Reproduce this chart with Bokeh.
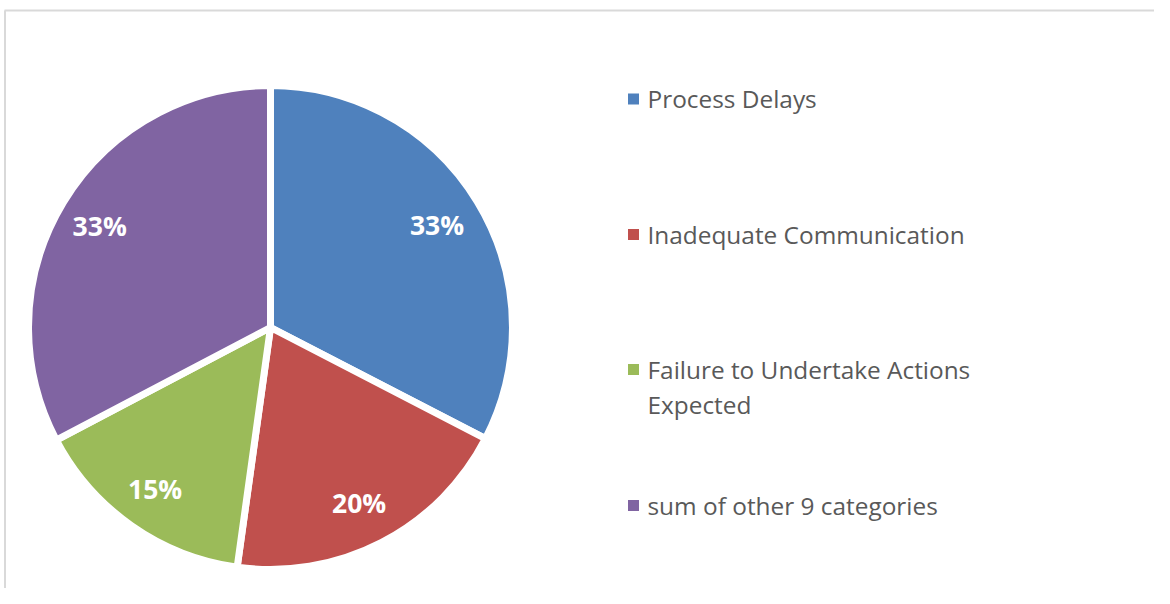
import math
from bokeh.plotting import figure
from bokeh.models import Range1d, ColumnDataSource
from bokeh.core.properties import value
from bokeh.embed import file_html
from bokeh.resources import INLINE

# ---- data ----
categories = ["Process Delays", "Inadequate Communication",
              "Failure to Undertake Actions\nExpected", "sum of other 9 categories"]
shares = [32.6, 19.6, 15.1, 32.7]          # percent of complaints
colors = ["#4F81BD", "#C0504D", "#9BBB59", "#8064A2"]

# ---- figure (data units == pixels from figure top-left, y measured upward) ----
W, H = 1154, 588
p = figure(width=W, height=H, output_backend="svg", toolbar_location=None,
           x_range=Range1d(0, W), y_range=Range1d(0, H),
           min_border=0)
p.axis.visible = False
p.grid.visible = False
p.outline_line_color = None
p.background_fill_color = "white"

def py(pix_y):
    return H - pix_y

# chart area border (top and left visible)
p.segment(x0=[4, 4.5], y0=[py(10), py(10)], x1=[W, 4.5], y1=[py(10), py(H)],
          line_color="#D9D9D9", line_width=2)

# ---- pie ----
cx, cy, R = 270, py(327), 242
total = sum(shares)
starts, ends, mids = [], [], []
acc = 0.0
for s in shares:
    a0 = acc / total
    acc += s
    a1 = acc / total
    # clockwise from 12 o'clock
    starts.append(math.pi / 2 - 2 * math.pi * a1)
    ends.append(math.pi / 2 - 2 * math.pi * a0)
    mids.append(math.pi / 2 - 2 * math.pi * (a0 + a1) / 2)

src = ColumnDataSource(dict(start=starts, end=ends, color=colors))
p.wedge(x=cx, y=cy, radius=R, start_angle="start", end_angle="end",
        fill_color="color", line_color="white", line_width=7, source=src)

lab_r = 0.815 * R
p.text(x=[cx + lab_r * math.cos(m) - 2 for m in mids],
       y=[cy + lab_r * math.sin(m) for m in mids],
       text=[f"{round(s)}%" for s in shares],
       text_font=value("Open Sans"), text_font_style="bold",
       text_font_size="26.5px", text_color="white",
       text_align="center", text_baseline="middle")

# ---- legend ----
leg_y = [98.5, 234, 369, 505]   # pixel y of each marker centre
sq_x, txt_x = 633, 647
p.rect(x=[sq_x] * len(categories), y=[py(v) for v in leg_y], width=11, height=11,
       fill_color=colors, line_color=None)
tx, ty, tt = [], [], []
for cat, yy in zip(categories, leg_y):
    for i, line in enumerate(cat.split("\n")):
        tx.append(txt_x)
        ty.append(py(yy - 0.5 + i * 35))
        tt.append(line)
p.text(x=tx, y=ty, text=tt, text_font=value("Open Sans"), text_font_size="24.4px",
       text_color="#595959", text_align="left", text_baseline="alphabetic")

open("out.html", "w").write(file_html(p, INLINE))
